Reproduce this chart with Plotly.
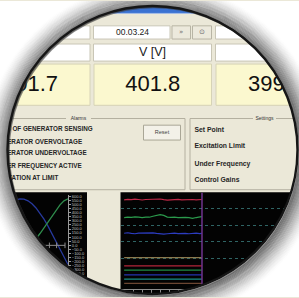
import math
import plotly.graph_objects as go

W, H = 299, 298

# ---------------- data ----------------
header_time = "00.03.24"
button_symbols = ["»", "⊙"]
column_title = "V [V]"
voltage_readings = ["401.7", "401.8", "399.6"]
alarms_title = "Alarms"
settings_title = "Settings"
reset_label = "Reset"
alarm_labels = ["LOSS OF GENERATOR SENSING", "GENERATOR OVERVOLTAGE",
                "GENERATOR UNDERVOLTAGE", "UNDER FREQUENCY ACTIVE",
                "EXCITATION AT LIMIT"]
settings_labels = ["Set Point", "Excitation Limit", "Under Frequency", "Control Gains"]

# left scope (time in ms, value in V)
scope_time_ms = [0, 2, 4, 6, 8, 10, 12, 14, 16, 18, 20, 22, 24, 26, 28, 30, 32, 34]
scope_blue = [358, 428, 486, 529, 557, 569, 565, 545, 509, 458, 394, 320, 235, 144, 49, -49, -144, -235]
scope_green = [-560, -545, -510, -450, -380, -300, -205, -105, -5, 80, 145, 215, 285, 360, 430, 495, 545, 570]
scope_marker_ms = [20.8, 24.7, 28.3, 32.5]
scope_marker_level = [0, 0, 0, 0]

# right strip chart (time in s, stacked channel values)
trend_time_s = [0.0, 0.4, 0.8, 1.2, 1.6, 2.0, 2.4, 2.8, 3.2, 3.6, 4.0, 4.4,
                4.8, 5.2, 5.6, 6.0, 6.4, 6.8, 7.2, 7.6, 8.0, 8.4, 8.6]
trend_red = [55.3, 55.6, 55.4, 55.7, 55.5, 55.2, 55.5, 55.6, 55.3, 55.5, 55.8, 55.4,
             55.1, 55.3, 55.5, 55.6, 55.3, 55.4, 55.7, 55.5, 55.3, 55.6, 55.5]
trend_green = [44.6, 44.9, 44.7, 45.0, 44.8, 44.6, 44.9, 44.8, 45.4, 46.0, 46.3, 45.9,
               44.9, 44.7, 44.9, 44.6, 44.8, 44.7, 44.5, 44.1, 44.6, 44.8, 45.1]
trend_blue = [35.1, 35.4, 35.0, 34.8, 35.2, 35.3, 35.0, 35.1, 35.3, 35.0, 34.7, 34.6,
              34.8, 35.0, 35.2, 34.9, 35.1, 35.0, 34.8, 35.1, 35.2, 34.9, 35.0]
trend_flat_levels = [20.4, 15.4, 12.8, 10.0, 7.4, 4.8]
trend_grid_levels = [20, 30, 40, 50]
trend_cursor_s = 8.65

# ---------------- styles ----------------
GRAY = "#ebe8d8"
TXT = "#262626"
SANS = "Liberation Sans, Arial, sans-serif"
flat_colors = ["#8c7a4e", "#b3263a", "#1f8a45", "#2635b0", "#1b9088", "#6b4632"]

fig = go.Figure()
shapes = []


def rect(x0, y0, x1, y1, fill, line="rgba(0,0,0,0)", lw=1, layer="below"):
    shapes.append(dict(type="rect", xref="x", yref="y", x0=x0, y0=y0, x1=x1, y1=y1,
                       fillcolor=fill, line=dict(color=line, width=lw), layer=layer))


def hline(x0, x1, y, color="#b4b0a0", lw=1):
    shapes.append(dict(type="line", xref="x", yref="y", x0=x0, x1=x1, y0=y, y1=y,
                       line=dict(color=color, width=lw), layer="below"))


def vline(x, y0, y1, color="#b4b0a0", lw=1):
    shapes.append(dict(type="line", xref="x", yref="y", x0=x, x1=x, y0=y0, y1=y1,
                       line=dict(color=color, width=lw), layer="below"))


# title bar
rect(-20, -20, 320, 12, "#3a72d2")
hline(-20, 320, 12.5, "#9db8e6")
# row 1
rect(-40, 25, 90, 38.3, "#ffffff", "#c9c6b6")
rect(93.5, 25, 170, 38.3, "#ffffff", "#c9c6b6")
rect(172, 25, 190.5, 38.3, "#ece9dc", "#b8b5a5")
rect(192.5, 25, 211.5, 38.3, "#ece9dc", "#b8b5a5")
rect(215.5, 25, 340, 38.3, "#ffffff", "#c9c6b6")
# row 2
rect(-40, 43.3, 90, 60.5, "#ffffff", "#c9c6b6")
rect(93.5, 43.3, 211.5, 60.5, "#ffffff", "#c9c6b6")
rect(215.5, 43.3, 340, 60.5, "#ffffff", "#c9c6b6")
# row 3 (yellow readings)
rect(-40, 63.5, 90, 105, "#fbf8cf", "#d6d3b6")
rect(94, 63.5, 211.5, 105, "#fbf8cf", "#d6d3b6")
rect(216, 63.5, 340, 105, "#fbf8cf", "#d6d3b6")
# alarms group box
hline(-20, 66, 118.3)
hline(91, 185, 118.3)
vline(185, 118.3, 190)
hline(-20, 185, 190)
# settings group box
vline(190, 118.3, 190)
hline(190, 253, 118.3)
hline(276, 340, 118.3)
hline(190, 340, 190)
# reset button
rect(143.5, 125, 180.5, 140, "#f3f1e8", "#a9a696")
# chart panels
rect(-20, 192.5, 87, 320, "#030303")
rect(120.5, 192.5, 340, 320, "#030303")


def text_trace(x, y, txt, size, color=TXT, family=SANS, pos="middle center", weight="normal"):
    fig.add_trace(go.Scatter(x=x, y=y, text=txt, mode="text", textposition=pos,
                             textfont=dict(size=size, color=color, family=family, weight=weight),
                             hoverinfo="skip", showlegend=False, xaxis="x", yaxis="y"))


text_trace([30.5, 152.8, 275.5], [85, 85, 85], voltage_readings, 22, "#111111")
text_trace([152.5], [51.8], [column_title], 12.5, "#1a1a1a")
text_trace([132.5], [31.8], [header_time], 8.5, "#1a1a1a")
text_trace([181.2, 202], [31.5, 31.8], button_symbols, 7, "#6e6e6e", "DejaVu Sans")
text_trace([78.5], [118.3], [alarms_title], 5, "#333333")
text_trace([264.5], [118.3], [settings_title], 5, "#333333")
text_trace([162], [132.5], [reset_label], 5.5, "#444444")
text_trace([-6.5] * len(alarm_labels), [129.7, 142.2, 153.9, 166.3, 178.7], alarm_labels, 6.3,
           "#262626", SANS, "middle right", "bold")
text_trace([194.5] * len(settings_labels), [130, 146.7, 164.3, 180.7], settings_labels, 6.8,
           "#262626", SANS, "middle right", "bold")

# left scope
fig.add_trace(go.Scatter(x=scope_time_ms, y=scope_blue, mode="lines", line=dict(color="#27399c", width=1.3),
                         xaxis="x2", yaxis="y2", hoverinfo="skip", showlegend=False))
fig.add_trace(go.Scatter(x=scope_time_ms, y=scope_green, mode="lines", line=dict(color="#2f8c4c", width=1.3),
                         xaxis="x2", yaxis="y2", hoverinfo="skip", showlegend=False))
fig.add_trace(go.Scatter(x=scope_marker_ms, y=scope_marker_level, mode="lines+markers",
                         line=dict(color="#8c8c8c", width=1),
                         marker=dict(symbol="line-ns", size=4, line=dict(color="#8c8c8c", width=1)),
                         xaxis="x2", yaxis="y2", hoverinfo="skip", showlegend=False))

# strip chart
for vals, col in [(trend_red, "#c02a48"), (trend_green, "#2b9a4c"), (trend_blue, "#2c3cc0")]:
    fig.add_trace(go.Scatter(x=trend_time_s, y=vals, mode="lines", line=dict(color=col, width=1.2),
                             xaxis="x3", yaxis="y3", hoverinfo="skip", showlegend=False))
for lvl, col in zip(trend_flat_levels, flat_colors):
    fig.add_trace(go.Scatter(x=[trend_time_s[0], trend_time_s[-1]], y=[lvl, lvl], mode="lines",
                             line=dict(color=col, width=1.3),
                             xaxis="x3", yaxis="y3", hoverinfo="skip", showlegend=False))
fig.add_trace(go.Scatter(x=[trend_cursor_s, trend_cursor_s], y=[-5, 70], mode="lines",
                         line=dict(color="#8a3fb0", width=1.2),
                         xaxis="x3", yaxis="y3", hoverinfo="skip", showlegend=False))

# lens mask
cx, cy, R = 152.5, 150.0, 145.0
n = 180
pts = [(cx + R * math.cos(2 * math.pi * i / n), cy + R * math.sin(2 * math.pi * i / n)) for i in range(n)]
circle_path = "M %.2f,%.2f " % pts[0] + " ".join("L %.2f,%.2f" % p for p in pts[1:]) + " Z"
mask_path = "M -60,-60 L 360,-60 L 360,360 L -60,360 Z " + circle_path
shapes.append(dict(type="path", xref="x", yref="y", path=mask_path, fillcolor="#ffffff",
                   fillrule="evenodd", line=dict(width=0), layer="above"))
sx, sy = cx + 1.5, cy + 1.5
for k in range(26):
    r = R + k
    a = 0.6 * (1 - k / 26) ** 1.7
    shapes.append(dict(type="circle", xref="x", yref="y", x0=sx - r, x1=sx + r, y0=sy - r, y1=sy + r,
                       line=dict(color="rgba(60,60,60,%.3f)" % a, width=1.6), layer="above"))
shapes.append(dict(type="circle", xref="x", yref="y", x0=cx - R, x1=cx + R, y0=cy - R, y1=cy + R,
                   line=dict(color="#161616", width=2.4), layer="above"))

fig.update_layout(
    width=W, height=H, autosize=False,
    margin=dict(l=0, r=0, t=0, b=0, pad=0),
    paper_bgcolor=GRAY, plot_bgcolor="rgba(0,0,0,0)",
    showlegend=False, shapes=shapes,
    xaxis=dict(range=[0, W], domain=[0, 1], visible=False, fixedrange=True),
    yaxis=dict(range=[H, 0], domain=[0, 1], visible=False, fixedrange=True),
    xaxis2=dict(range=[0, 34], domain=[0, 68 / W], anchor="y2", visible=False),
    yaxis2=dict(range=[-620, 620], domain=[1 / H, 103 / H], anchor="x2", side="right",
                showgrid=False, zeroline=False, showline=True, linecolor="#9a9a9a", linewidth=1,
                ticks="outside", ticklen=2, tickcolor="#9a9a9a", tickmode="linear", tick0=0, dtick=50,
                tickformat=".1f", tickfont=dict(size=4, color="#c4c4c4", family=SANS)),
    xaxis3=dict(range=[-0.35, 19.43], domain=[121 / W, 1], anchor="y3", showgrid=False, zeroline=False,
                showline=True, linecolor="#8c8c8c", ticks="outside", ticklen=3, tickcolor="#8c8c8c",
                tickmode="linear", tick0=0, dtick=1, showticklabels=False),
    yaxis3=dict(range=[1.4, 59.6], domain=[8 / H, 105 / H], anchor="x3", showgrid=True,
                gridcolor="#2f6464", griddash="dot", gridwidth=1, tickmode="array",
                tickvals=trend_grid_levels,
                zeroline=False, showticklabels=False, showline=False),
)

fig.write_html("out.html", config={"displayModeBar": False},
               post_script="document.body.style.margin='0px';document.body.style.overflow='hidden';")
